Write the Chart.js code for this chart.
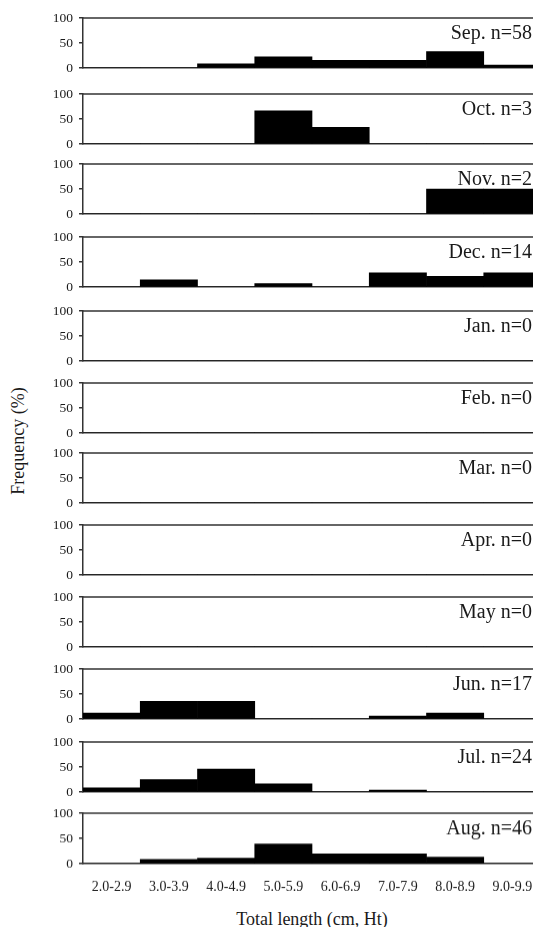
<!DOCTYPE html>
<html>
<head>
<meta charset="utf-8">
<script src="https://cdn.jsdelivr.net/npm/chart.js@4.4.0/dist/chart.umd.min.js"></script>
<style>
    html, body { margin: 0; padding: 0; background: #fff; overflow: hidden; }
    body { width: 533px; height: 927px; position: relative; font-family: "Liberation Serif", "Times New Roman", serif; color: #1a1a1a; }
    .panel { position: absolute; left: 0; width: 545px; height: 150px; }
    .axis-title { position: absolute; font-size: 18px; white-space: nowrap; }
    #yTitle { left: 18px; top: 441px; transform: translate(-50%, -50%) rotate(-90deg); }
    #xTitle { left: 312px; top: 919px; transform: translate(-50%, -50%); }
</style>
</head>
<body>
<div id="yTitle" class="axis-title">Frequency (%)</div>
<div id="xTitle" class="axis-title">Total length (cm, Ht)</div>
<script>
// Size classes (total length, cm) shared by every monthly panel
const sizeClasses = ['2.0-2.9', '3.0-3.9', '4.0-4.9', '5.0-5.9', '6.0-6.9', '7.0-7.9', '8.0-8.9', '9.0-9.9'];
const monthLabels = ['Sep.', 'Oct.', 'Nov.', 'Dec.', 'Jan.', 'Feb.', 'Mar.', 'Apr.', 'May', 'Jun.', 'Jul.', 'Aug.'];
const sampleSizes = [58, 3, 2, 14, 0, 0, 0, 0, 0, 17, 24, 46];

// Frequency (%) per size class
const sepFreq = [0, 0, 8.6, 22.4, 15.5, 15.5, 32.8, 6.0];
const octFreq = [0, 0, 0, 66.7, 33.3, 0, 0, 0];
const novFreq = [0, 0, 0, 0, 0, 0, 50, 50];
const decFreq = [0, 14.3, 0, 7.1, 0, 28.6, 21.4, 28.6];
const janFreq = [0, 0, 0, 0, 0, 0, 0, 0];
const febFreq = [0, 0, 0, 0, 0, 0, 0, 0];
const marFreq = [0, 0, 0, 0, 0, 0, 0, 0];
const aprFreq = [0, 0, 0, 0, 0, 0, 0, 0];
const mayFreq = [0, 0, 0, 0, 0, 0, 0, 0];
const junFreq = [11.8, 35.3, 35.3, 0, 0, 5.9, 11.8, 0];
const julFreq = [8.3, 25.0, 45.8, 16.7, 0, 4.2, 0, 0];
const augFreq = [0, 8.7, 10.9, 39.1, 19.6, 19.6, 13.0, 0];

const monthlyFreq = [sepFreq, octFreq, novFreq, decFreq, janFreq, febFreq,
                     marFreq, aprFreq, mayFreq, junFreq, julFreq, augFreq];

// Layout: top of each plot area on the page, and plot height
const panelTops = [18, 94, 164, 237, 311, 383, 453, 525, 597, 669, 742, 813];
const plotHeight = 50;

const lineColor = '#333';
const serif = '"Liberation Serif", "Times New Roman", serif';

Chart.defaults.font.family = serif;
Chart.defaults.color = '#1a1a1a';

// draws the top frame line and the "Mon. n=xx" label inside each panel
function panelFrame(text) {
    return {
        id: 'panelFrame',
        afterDraw(chart) {
            const { ctx, chartArea } = chart;
            ctx.save();
            ctx.strokeStyle = lineColor;
            ctx.lineWidth = 1.5;
            ctx.beginPath();
            ctx.moveTo(chartArea.left, chartArea.top);
            ctx.lineTo(chartArea.right, chartArea.top);
            ctx.stroke();
            ctx.font = '20px ' + serif;
            ctx.fillStyle = '#1a1a1a';
            ctx.textAlign = 'right';
            ctx.textBaseline = 'alphabetic';
            ctx.fillText(text, 532, chartArea.top + 21);
            ctx.restore();
        }
    };
}

monthLabels.forEach((month, i) => {
    const isLast = i === monthLabels.length - 1;
    const wrap = document.createElement('div');
    wrap.className = 'panel';
    document.body.appendChild(wrap);
    const canvas = document.createElement('canvas');
    wrap.appendChild(canvas);

    const chart = new Chart(canvas, {
        type: 'bar',
        data: {
            labels: sizeClasses,
            datasets: [{
                data: monthlyFreq[i],
                backgroundColor: '#000',
                borderWidth: 0,
                categoryPercentage: 1.0,
                barPercentage: 1.0
            }]
        },
        options: {
            responsive: true,
            maintainAspectRatio: false,
            animation: false,
            layout: { padding: { left: 0, right: 4, top: 0, bottom: 0 } },
            plugins: {
                legend: { display: false },
                tooltip: { enabled: false }
            },
            scales: {
                x: {
                    grid: { display: false },
                    border: { display: true, color: lineColor, width: 1.5 },
                    ticks: {
                        display: isLast,
                        autoSkip: false,
                        maxRotation: 0,
                        padding: 7,
                        font: { size: 14 }
                    }
                },
                y: {
                    min: 0,
                    max: 100,
                    afterFit: (scale) => { scale.width = 83; },
                    grid: { drawOnChartArea: false, drawTicks: true, tickLength: 4, color: lineColor, lineWidth: 1.5 },
                    border: { display: true, color: lineColor, width: 1.5 },
                    ticks: { stepSize: 50, autoSkip: false, padding: 6, font: { size: 13.5 } }
                }
            }
        },
        plugins: [panelFrame(`${month} n=${sampleSizes[i]}`)]
    });

    // fit the canvas so the plot area is plotHeight tall, then place it
    for (let pass = 0; pass < 2; pass++) {
        const extra = chart.height - (chart.chartArea.bottom - chart.chartArea.top);
        wrap.style.height = (plotHeight + extra) + 'px';
        chart.resize();
    }
    wrap.style.top = (panelTops[i] - chart.chartArea.top) + 'px';
});
</script>
</body>
</html>
